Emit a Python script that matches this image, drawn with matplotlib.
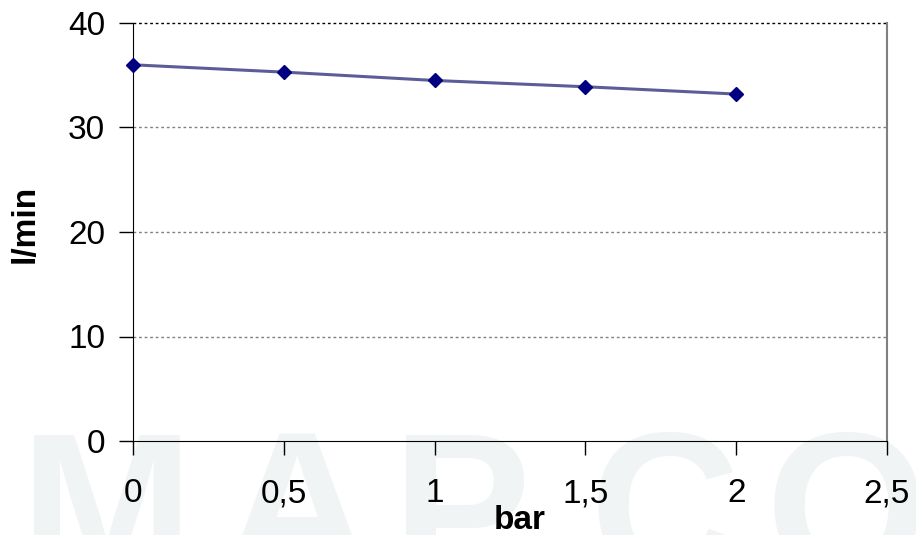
import matplotlib
matplotlib.use("Agg")
import matplotlib.pyplot as plt

plt.rcParams['font.family'] = ['Liberation Sans', 'DejaVu Sans']

# Druck (bar) gegen Durchfluss (l/min)
pressure = [0, 0.5, 1, 1.5, 2]
flow = [36.0, 35.3, 34.5, 33.9, 33.2]
x_ticks = [0, 0.5, 1, 1.5, 2, 2.5]
x_labels = ['0', '0,5', '1', '1,5', '2', '2,5']
y_ticks = [0, 10, 20, 30, 40]

fig = plt.figure(figsize=(9.16, 5.35), dpi=100)
ax = fig.add_axes([133 / 916, 1 - 441 / 535, 754 / 916, 418 / 535])
ax.set_zorder(2)

# Wasserzeichen im Hintergrund (Buchstabe, linke Kante in px)
wm_letters = [('M', 20), ('A', 222), ('P', 392), ('C', 590), ('O', 765)]
for ch, px in wm_letters:
    fig.text(px / 916, -0.08, ch, fontsize=150, fontweight='bold',
             color='#f1f4f4', zorder=-5)

ax.plot(pressure, flow, color='#5c5c98', lw=2.2, zorder=3)
ax.plot(pressure, flow, ls='none', marker='D', ms=7.5, color='#000080', zorder=4,
        clip_on=False)

ax.set_xlim(0, 2.5)
ax.set_ylim(0, 40)
ax.set_xticks(x_ticks)
ax.set_xticklabels(x_labels)
ax.set_yticks(y_ticks)
ax.tick_params(labelsize=24, length=10, width=1, direction='out')
ax.tick_params(axis='x', pad=17)
ax.tick_params(axis='y', pad=10)

for y in [10, 20, 30]:
    ax.axhline(y, color='#808080', lw=1, ls=(0, (2, 2)), zorder=1)
ax.axhline(40, color='black', lw=1, ls=(0, (2, 2)), zorder=1, clip_on=False)

ax.spines['top'].set_visible(False)
ax.spines['right'].set_color('#808080')
ax.spines['right'].set_linewidth(1.5)
ax.spines['left'].set_color('black')
ax.spines['bottom'].set_color('black')
ax.patch.set_alpha(0)

ax.set_xlabel('bar', fontsize=24, fontweight='bold')
ax.xaxis.set_label_coords(0.513, -0.152)
ax.set_ylabel('l/min', fontsize=24, fontweight='bold')
ax.yaxis.set_label_coords(-0.123, 0.52)

fig.savefig('out.png', dpi=100)
